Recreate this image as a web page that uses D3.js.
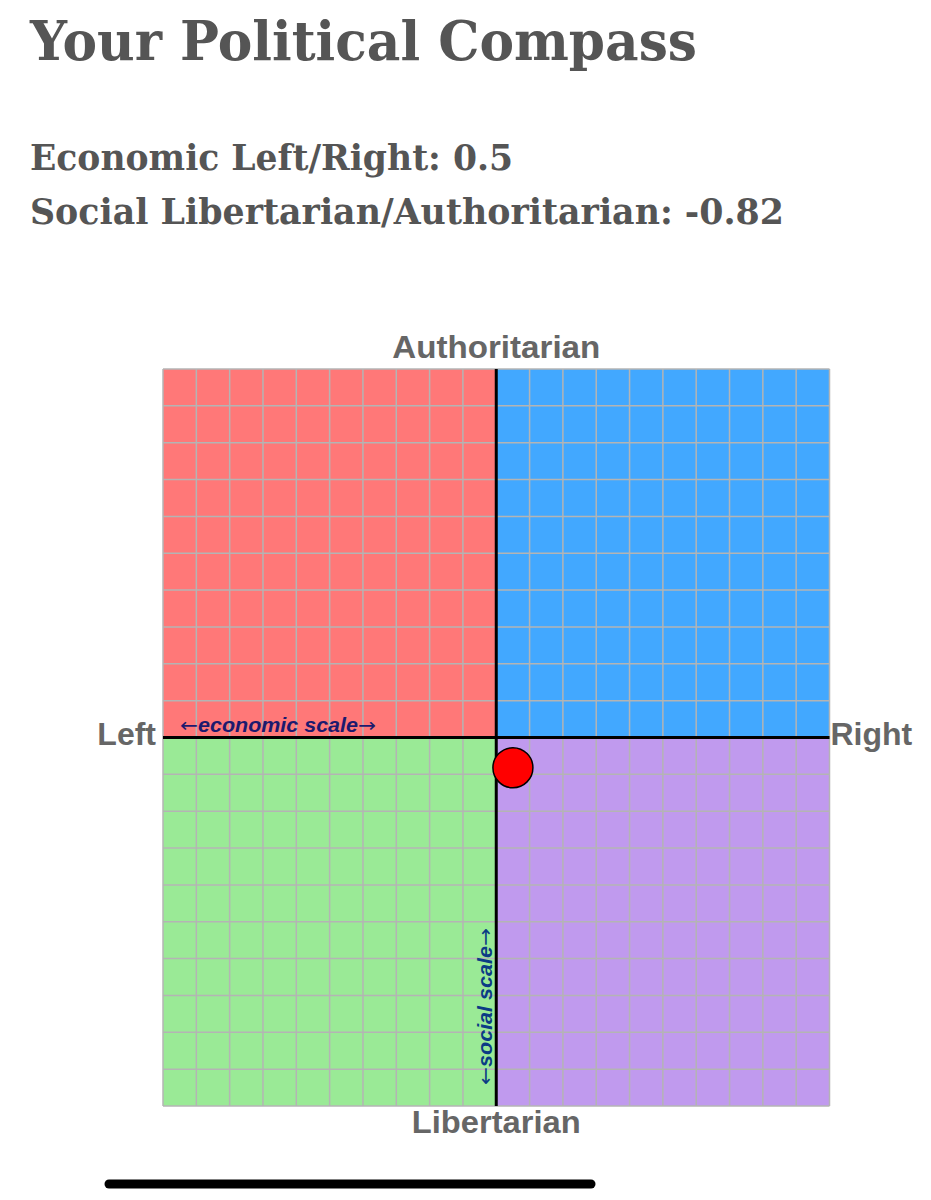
<!DOCTYPE html>
<html>
<head>
<meta charset="utf-8">
<script src="https://cdn.jsdelivr.net/npm/d3@7"></script>
<style>
  body { margin: 0; background: #fff; }
</style>
</head>
<body>
<div id="chart"></div>
<script>
// scores read from the result
var economicScore = 0.5;
var socialScore = -0.82;

// quadrant names and fills: [xFrom, xTo, yFrom, yTo]
var quadrantNames = ['authLeft', 'authRight', 'libLeft', 'libRight'];
var quadrantFills = ['#ff7878', '#42a8ff', '#9aea96', '#c09aee'];
var quadrantX = [[-10, 0], [0, 10], [-10, 0], [0, 10]];
var quadrantY = [[0, 10], [0, 10], [-10, 0], [-10, 0]];

// grid tick values (one line per unit)
var gridTicks = d3.range(-10, 11, 1);

var axisLabels = ['Authoritarian', 'Libertarian', 'Left', 'Right'];
var scaleHints = ['economic scale', 'social scale'];

var W = 931, H = 1200;
var svg = d3.select('#chart').append('svg')
    .attr('width', W)
    .attr('height', H);

// headings
var serif = '"DejaVu Serif", "Liberation Serif", serif';
svg.append('text')
    .attr('x', 30).attr('y', 60)
    .attr('font-family', serif).attr('font-weight', 'bold')
    .attr('font-size', 54).attr('fill', '#555')
    .attr('textLength', 667).attr('lengthAdjust', 'spacingAndGlyphs')
    .text('Your Political Compass');

svg.append('text')
    .attr('x', 30).attr('y', 170)
    .attr('font-family', serif).attr('font-weight', 'bold')
    .attr('font-size', 35).attr('fill', '#555')
    .attr('textLength', 483).attr('lengthAdjust', 'spacingAndGlyphs')
    .text('Economic Left/Right: ' + economicScore);

svg.append('text')
    .attr('x', 30).attr('y', 224)
    .attr('font-family', serif).attr('font-weight', 'bold')
    .attr('font-size', 35).attr('fill', '#555')
    .attr('textLength', 754).attr('lengthAdjust', 'spacingAndGlyphs')
    .text('Social Libertarian/Authoritarian: ' + socialScore);

// scales
var x = d3.scaleLinear().domain([-10, 10]).range([163, 829.5]);
var y = d3.scaleLinear().domain([-10, 10]).range([1106, 369]);

// quadrants
svg.append('g')
    .selectAll('rect')
    .data(quadrantNames)
    .enter().append('rect')
    .attr('x', function(d, i) { return x(quadrantX[i][0]); })
    .attr('y', function(d, i) { return y(quadrantY[i][1]); })
    .attr('width', function(d, i) { return x(quadrantX[i][1]) - x(quadrantX[i][0]); })
    .attr('height', function(d, i) { return y(quadrantY[i][0]) - y(quadrantY[i][1]); })
    .attr('fill', function(d, i) { return quadrantFills[i]; });

// grid
var grid = svg.append('g')
    .attr('stroke', '#b4b4b4')
    .attr('stroke-width', 1.5);

grid.selectAll('line.v')
    .data(gridTicks)
    .enter().append('line')
    .attr('class', 'v')
    .attr('x1', function(d) { return x(d); })
    .attr('x2', function(d) { return x(d); })
    .attr('y1', y(10)).attr('y2', y(-10));

grid.selectAll('line.h')
    .data(gridTicks)
    .enter().append('line')
    .attr('class', 'h')
    .attr('y1', function(d) { return y(d); })
    .attr('y2', function(d) { return y(d); })
    .attr('x1', x(-10)).attr('x2', x(10));

// main axes through the centre
svg.append('line')
    .attr('x1', x(-10)).attr('x2', x(10))
    .attr('y1', y(0)).attr('y2', y(0))
    .attr('stroke', '#000').attr('stroke-width', 3);

svg.append('line')
    .attr('x1', x(0)).attr('x2', x(0))
    .attr('y1', y(10)).attr('y2', y(-10))
    .attr('stroke', '#000').attr('stroke-width', 3);

// axis end labels
var sans = '"Liberation Sans", Arial, sans-serif';
var labels = svg.append('g')
    .attr('font-family', sans).attr('font-weight', 'bold')
    .attr('font-size', 32).attr('fill', '#666');

labels.append('text')
    .attr('x', x(0)).attr('y', y(10) - 11)
    .attr('text-anchor', 'middle')
    .attr('textLength', 208).attr('lengthAdjust', 'spacingAndGlyphs')
    .text(axisLabels[0]);

labels.append('text')
    .attr('x', x(0)).attr('y', y(-10) + 27)
    .attr('text-anchor', 'middle')
    .attr('textLength', 169).attr('lengthAdjust', 'spacingAndGlyphs')
    .text(axisLabels[1]);

labels.append('text')
    .attr('x', x(-10) - 7).attr('y', y(0) + 7)
    .attr('text-anchor', 'end')
    .text(axisLabels[2]);

labels.append('text')
    .attr('x', x(10) + 1).attr('y', y(0) + 7)
    .attr('text-anchor', 'start')
    .text(axisLabels[3]);

// scale hints, arrows in a plain face
function hint(sel, label) {
    sel.append('tspan')
        .attr('font-family', '"DejaVu Sans", sans-serif')
        .attr('font-weight', 'normal').attr('font-style', 'normal')
        .text('\u2190');
    sel.append('tspan').text(label);
    sel.append('tspan')
        .attr('font-family', '"DejaVu Sans", sans-serif')
        .attr('font-weight', 'normal').attr('font-style', 'normal')
        .text('\u2192');
}

svg.append('text')
    .attr('x', x(-10) + 17).attr('y', y(0) - 6)
    .attr('font-family', sans).attr('font-weight', 'bold').attr('font-style', 'italic')
    .attr('font-size', 19.5).attr('fill', '#1c1a6e')
    .attr('textLength', 196).attr('lengthAdjust', 'spacingAndGlyphs')
    .call(hint, scaleHints[0]);

svg.append('text')
    .attr('transform', 'translate(' + (x(0) - 4) + ',' + (y(-10) - 21) + ') rotate(-90)')
    .attr('font-family', sans).attr('font-weight', 'bold').attr('font-style', 'italic')
    .attr('font-size', 19.5).attr('fill', '#0b3b85')
    .attr('textLength', 157).attr('lengthAdjust', 'spacingAndGlyphs')
    .call(hint, scaleHints[1]);

// the result dot
svg.append('circle')
    .attr('cx', x(economicScore))
    .attr('cy', y(socialScore))
    .attr('r', 20)
    .attr('fill', '#ff0000')
    .attr('stroke', '#000')
    .attr('stroke-width', 1.5);

// phone home bar seen under the chart
svg.append('line')
    .attr('x1', 109).attr('x2', 591)
    .attr('y1', 1184).attr('y2', 1184)
    .attr('stroke', '#000').attr('stroke-width', 9)
    .attr('stroke-linecap', 'round');
</script>
</body>
</html>
